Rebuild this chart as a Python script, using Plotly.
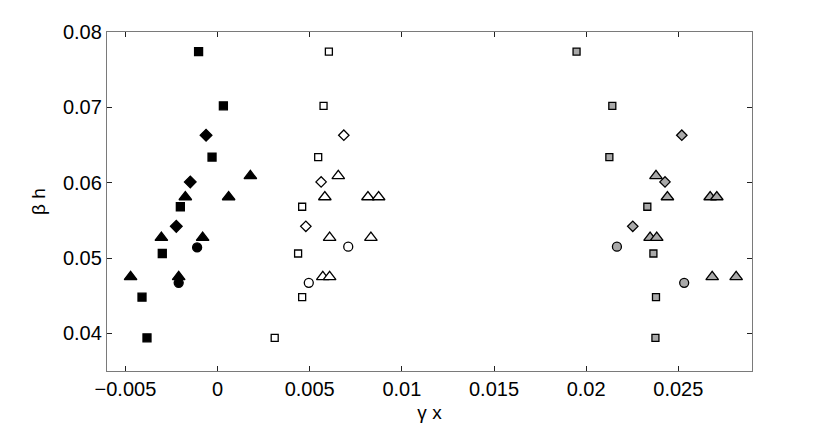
import plotly.graph_objects as go

# black group
blk_sq_x = [-0.00103, 0.000315, -0.0003, -0.00202, -0.0030, -0.0041, -0.00383]
blk_sq_y = [0.0774, 0.0702, 0.0634, 0.0568, 0.0506, 0.0448, 0.0394]
blk_di_x = [-0.000625, -0.00148, -0.00224]
blk_di_y = [0.0663, 0.0601, 0.0542]
blk_tr_x = [0.00178, 0.0006, -0.00175, -0.00305, -0.00081, -0.00472, -0.00211]
blk_tr_y = [0.0609, 0.0581, 0.0581, 0.0527, 0.0527, 0.0475, 0.0475]
blk_ci_x = [-0.00111, -0.00211]
blk_ci_y = [0.0514, 0.0467]

# white group
wht_sq_x = [0.00604, 0.00575, 0.00546, 0.00459, 0.00437, 0.00459, 0.0031]
wht_sq_y = [0.0774, 0.0702, 0.0634, 0.0568, 0.0506, 0.0448, 0.0394]
wht_di_x = [0.00685, 0.00562, 0.00479]
wht_di_y = [0.0663, 0.0601, 0.0542]
wht_tr_x = [0.00655, 0.00582, 0.00816, 0.00874, 0.00608, 0.00832, 0.00571, 0.00608]
wht_tr_y = [0.0609, 0.0581, 0.0581, 0.0581, 0.0527, 0.0527, 0.0475, 0.0475]
wht_ci_x = [0.00709, 0.00495]
wht_ci_y = [0.0515, 0.0467]

# gray group
gry_sq_x = [0.01948, 0.02142, 0.02126, 0.02332, 0.02365, 0.02379, 0.02376]
gry_sq_y = [0.0774, 0.0702, 0.0634, 0.0568, 0.0506, 0.0448, 0.0394]
gry_di_x = [0.02519, 0.02428, 0.02253]
gry_di_y = [0.0663, 0.0601, 0.0542]
gry_tr_x = [0.02379, 0.02441, 0.02673, 0.02709, 0.02347, 0.02383, 0.02684, 0.02814]
gry_tr_y = [0.0609, 0.0581, 0.0581, 0.0581, 0.0527, 0.0527, 0.0475, 0.0475]
gry_ci_x = [0.02167, 0.02532]
gry_ci_y = [0.0515, 0.0467]

x_ticks = [-0.005, 0, 0.005, 0.01, 0.015, 0.02, 0.025]
x_labels = ["\u22120.005", "0", "0.005", "0.01", "0.015", "0.02", "0.025"]
y_ticks = [0.04, 0.05, 0.06, 0.07, 0.08]
y_labels = ["0.04", "0.05", "0.06", "0.07", "0.08"]

FONT = "Liberation Sans, Arial, sans-serif"
GRAY = "#a9a9a9"

fig = go.Figure()


def add(x, y, symbol, fill, size):
    fig.add_trace(go.Scatter(
        x=x, y=y, mode="markers",
        marker=dict(symbol=symbol, color=fill, size=size,
                    line=dict(color="black", width=1.3)),
        showlegend=False, hoverinfo="skip"))


add(blk_sq_x, blk_sq_y, "square", "black", 8)
add(blk_di_x, blk_di_y, "diamond", "black", 9)
add(blk_tr_x, blk_tr_y, "triangle-up", "black", 11)
add(blk_ci_x, blk_ci_y, "circle", "black", 9)

add(wht_sq_x, wht_sq_y, "square", "white", 7)
add(wht_di_x, wht_di_y, "diamond", "white", 8)
add(wht_tr_x, wht_tr_y, "triangle-up", "white", 11)
add(wht_ci_x, wht_ci_y, "circle", "white", 9)

add(gry_sq_x, gry_sq_y, "square", GRAY, 7)
add(gry_di_x, gry_di_y, "diamond", GRAY, 8)
add(gry_tr_x, gry_tr_y, "triangle-up", GRAY, 11)
add(gry_ci_x, gry_ci_y, "circle", GRAY, 9)

axis = dict(showgrid=False, zeroline=False, showline=True, mirror="ticks",
            linecolor="#7a7a7a", linewidth=1.3, ticks="inside", ticklen=5,
            tickcolor="#222", tickwidth=1, automargin=False,
            tickfont=dict(family=FONT, size=20, color="black"))

# page body adds 8px offset, margins compensate for it
fig.update_layout(
    width=830, height=426,
    margin=dict(l=99, r=86, t=24, b=63),
    plot_bgcolor="white", paper_bgcolor="white",
    xaxis=dict(axis, range=[-0.006, 0.029], tickvals=x_ticks, ticktext=x_labels,
               title=dict(text="\u03b3 x", standoff=6,
                          font=dict(family=FONT, size=19, color="black"))),
    yaxis=dict(axis, range=[0.035, 0.08], tickvals=y_ticks, ticktext=y_labels,
               title=dict(text="\u03b2 h", standoff=12,
                          font=dict(family=FONT, size=19, color="black"))),
)

fig.write_html("out.html")
